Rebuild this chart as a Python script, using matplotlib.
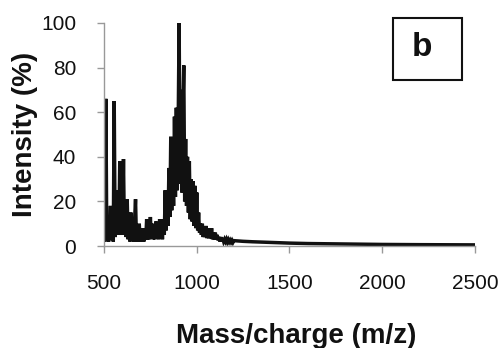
import matplotlib
matplotlib.use("Agg")
import matplotlib.pyplot as plt
from matplotlib.patches import Rectangle

plt.rcParams['font.family'] = ['Liberation Sans', 'DejaVu Sans']

# m/z sampling of the dense region (step 5) and intensities
mz_dense = list(range(500, 1205, 5))
int_dense = [
    12, 2, 66, 3, 12, 2, 8, 18, 3, 10,          # 500-545
    2, 65, 4, 20, 5, 25, 6, 38, 5, 22,          # 550-595
    8, 39, 5, 18, 4, 21, 3, 12, 2, 15,          # 600-645
    3, 10, 2, 12, 21, 2, 6, 2, 10, 2,           # 650-695
    8, 2, 6, 2, 8, 3, 12, 3, 9, 3,              # 700-745
    13, 4, 10, 3, 8, 3, 11, 4, 9, 3,            # 750-795
    12, 4, 10, 3, 12, 5, 25, 7, 20, 9,          # 800-845
    35, 13, 49, 16, 42, 18, 58, 22, 62, 25,     # 850-895
    55, 100, 28, 70, 24, 60, 81, 20, 48, 18,    # 900-945
    40, 15, 38, 12, 30, 11, 29, 9, 27, 8,       # 950-995
    24, 7, 15, 6, 10, 5, 10, 4, 8, 4,           # 1000-1045
    9, 3.5, 8, 3.5, 7, 3.5, 8, 3, 6, 3,         # 1050-1095
    6, 3, 5, 2.5, 4, 2, 4, 2, 3.5, 2,           # 1100-1145
    3, 2, 3, 1.8, 2.8, 1.8, 2.6, 1.7, 2.5, 1.6, # 1150-1195
    2.4,                                         # 1200
]
mz_tail = [1250, 1300, 1400, 1500, 1600, 1700, 1800, 2000, 2200, 2500]
int_tail = [2.1, 1.9, 1.6, 1.3, 1.1, 1.0, 0.9, 0.7, 0.6, 0.5]

mz = mz_dense + mz_tail
intensity = int_dense + int_tail

x_ticks = [500, 1000, 1500, 2000, 2500]
y_ticks = [0, 20, 40, 60, 80, 100]
panel_label = "b"

fig = plt.figure(figsize=(5.02, 3.48), dpi=100)
ax = fig.add_axes([104/502, 1-246/348, (475-104)/502, (246-23)/348])

ax.plot(mz, intensity, color='#111111', lw=2.5, solid_joinstyle='miter')
ax.set_xlim(500, 2500)
ax.set_ylim(0, 100)
ax.set_xticks(x_ticks)
ax.set_yticks(y_ticks)
ax.tick_params(axis='both', labelsize=15, length=5, width=1, color='#999999',
               pad=15, labelcolor='#111111')
for s in ['top', 'right']:
    ax.spines[s].set_visible(False)
for s in ['left', 'bottom']:
    ax.spines[s].set_color('#999999')
    ax.spines[s].set_linewidth(1)

fig.text(25/502, 1-134/348, "Intensity (%)", rotation=90, ha='center', va='center',
         fontsize=20, fontweight='bold', color='#111111')
fig.text(296/502, 1-336/348, "Mass/charge (m/z)", ha='center', va='center',
         fontsize=20, fontweight='bold', color='#111111')

fig.patches.append(Rectangle((393/502, 1-80/348), 69/502, 62/348,
                             transform=fig.transFigure, fill=False,
                             edgecolor='#111111', lw=1.5))
fig.text(422/502, 1-47/348, panel_label, ha='center', va='center',
         fontsize=24, fontweight='bold', color='#111111')

fig.savefig("out.png", dpi=100)
